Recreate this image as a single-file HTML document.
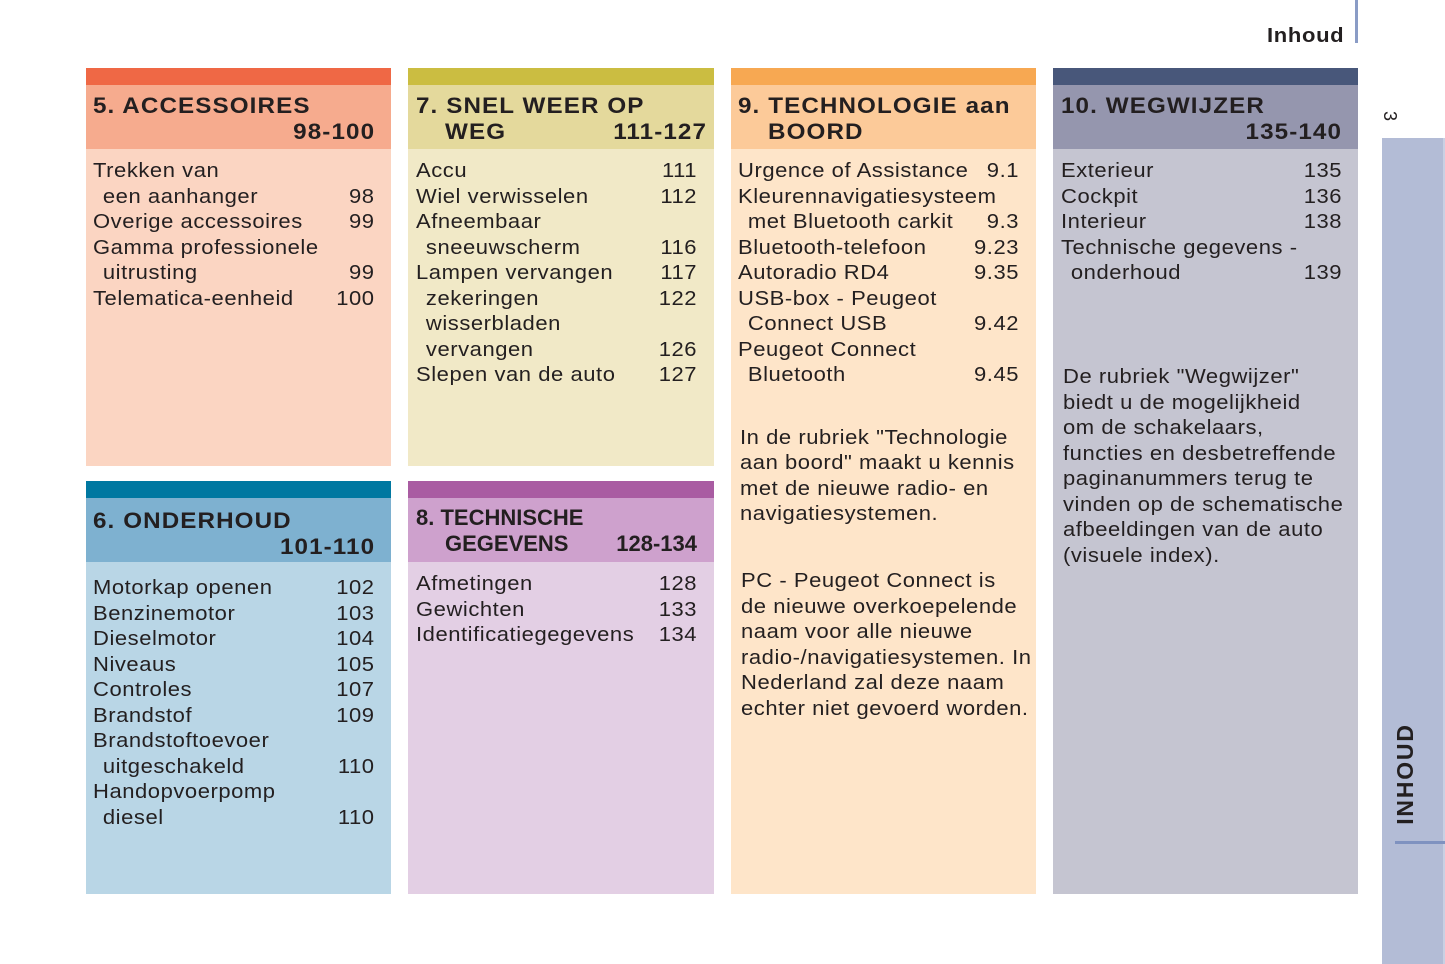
<!DOCTYPE html>
<html>
<head>
<meta charset="utf-8">
<style>
html,body{margin:0;padding:0;}
body{width:1445px;height:964px;position:relative;overflow:hidden;background:#fff;font-family:"Liberation Sans",Arial,sans-serif;color:#231f20;}
.r{position:absolute;}
.t{position:absolute;font-size:20px;line-height:25.5px;letter-spacing:0.5px;white-space:nowrap;transform:scaleX(1.1);transform-origin:0 0;}
.t div{position:relative;height:25.5px;}
.t .n{position:absolute;right:0;top:0;}
.t .i{padding-left:9px;}
.h{position:absolute;font-size:22px;font-weight:bold;line-height:26px;letter-spacing:1px;white-space:nowrap;transform:scaleX(1.1);transform-origin:0 0;}
.h div{position:relative;height:26px;}
.h .n{position:absolute;right:0;top:0;}
</style>
</head>
<body>
<!-- top right -->
<div class="r" style="left:1355px;top:0;width:3px;height:43px;background:#8a9cc6;"></div>
<div class="r" style="left:1267px;top:23px;font-size:20px;font-weight:bold;letter-spacing:0.6px;line-height:26px;transform:scaleX(1.1);transform-origin:0 0;">Inhoud</div>
<div class="r" style="left:1380px;top:104px;width:20px;height:24px;font-size:18px;line-height:24px;text-align:center;transform:rotate(90deg);">3</div>

<!-- sidebar -->
<div class="r" style="left:1382px;top:138px;width:61px;height:826px;background:#b3bcd6;"></div>
<div class="r" style="left:1443px;top:138px;width:2px;height:826px;background:#c9d0e3;"></div>
<div class="r" style="left:1352px;top:761px;width:106px;height:26px;font-size:23px;font-weight:bold;letter-spacing:1.8px;line-height:26px;text-align:center;transform:rotate(-90deg);white-space:nowrap;">INHOUD</div>
<div class="r" style="left:1395px;top:841px;width:50px;height:3px;background:#7f92c0;"></div>

<!-- Column 1 row 1 -->
<div class="r" style="left:86px;top:68px;width:305px;height:17px;background:#ef6845;"></div>
<div class="r" style="left:86px;top:85px;width:305px;height:64px;background:#f6ab8e;"></div>
<div class="r" style="left:86px;top:149px;width:305px;height:317px;background:#fbd5c2;"></div>
<div class="h" style="left:93px;top:93px;width:256.5px;">
<div>5. ACCESSOIRES</div>
<div><span class="n">98-100</span></div>
</div>
<div class="t" style="left:93px;top:159px;width:256px;">
<div>Trekken van</div>
<div class="i">een aanhanger<span class="n">98</span></div>
<div>Overige accessoires<span class="n">99</span></div>
<div>Gamma professionele</div>
<div class="i">uitrusting<span class="n">99</span></div>
<div>Telematica-eenheid<span class="n">100</span></div>
</div>

<!-- Column 2 row 1 -->
<div class="r" style="left:408px;top:68px;width:306px;height:17px;background:#cbbd41;"></div>
<div class="r" style="left:408px;top:85px;width:306px;height:64px;background:#e4d99c;"></div>
<div class="r" style="left:408px;top:149px;width:306px;height:317px;background:#f1e9c7;"></div>
<div class="h" style="left:416px;top:93px;width:264.6px;">
<div>7. SNEL WEER OP</div>
<div style="padding-left:26.4px;">WEG<span class="n">111-127</span></div>
</div>
<div class="t" style="left:416px;top:159px;width:255.5px;">
<div>Accu<span class="n">111</span></div>
<div>Wiel verwisselen<span class="n">112</span></div>
<div>Afneembaar</div>
<div class="i">sneeuwscherm<span class="n">116</span></div>
<div>Lampen vervangen<span class="n">117</span></div>
<div class="i">zekeringen<span class="n">122</span></div>
<div class="i">wisserbladen</div>
<div class="i">vervangen<span class="n">126</span></div>
<div>Slepen van de auto<span class="n">127</span></div>
</div>

<!-- Column 3 -->
<div class="r" style="left:731px;top:68px;width:305px;height:17px;background:#f7a852;"></div>
<div class="r" style="left:731px;top:85px;width:305px;height:64px;background:#fcca99;"></div>
<div class="r" style="left:731px;top:149px;width:305px;height:745px;background:#fee5c9;"></div>
<div class="h" style="left:738px;top:93px;width:264px;">
<div>9. TECHNOLOGIE aan</div>
<div style="padding-left:27.3px;">BOORD</div>
</div>
<div class="t" style="left:738px;top:159px;width:255.5px;">
<div>Urgence of Assistance<span class="n">9.1</span></div>
<div>Kleurennavigatiesysteem</div>
<div class="i">met Bluetooth carkit<span class="n">9.3</span></div>
<div>Bluetooth-telefoon<span class="n">9.23</span></div>
<div>Autoradio RD4<span class="n">9.35</span></div>
<div>USB-box - Peugeot</div>
<div class="i">Connect USB<span class="n">9.42</span></div>
<div>Peugeot Connect</div>
<div class="i">Bluetooth<span class="n">9.45</span></div>
</div>
<div class="t" style="left:740px;top:426px;line-height:25.3px;">
<div style="height:25.3px;">In de rubriek "Technologie</div>
<div style="height:25.3px;">aan boord" maakt u kennis</div>
<div style="height:25.3px;">met de nieuwe radio- en</div>
<div style="height:25.3px;">navigatiesystemen.</div>
</div>
<div class="t" style="left:741px;top:569px;">
<div>PC - Peugeot Connect is</div>
<div>de nieuwe overkoepelende</div>
<div>naam voor alle nieuwe</div>
<div>radio-/navigatiesystemen. In</div>
<div>Nederland zal deze naam</div>
<div>echter niet gevoerd worden.</div>
</div>

<!-- Column 4 -->
<div class="r" style="left:1053px;top:68px;width:305px;height:17px;background:#48577a;"></div>
<div class="r" style="left:1053px;top:85px;width:305px;height:64px;background:#9596ae;"></div>
<div class="r" style="left:1053px;top:149px;width:305px;height:745px;background:#c5c5d1;"></div>
<div class="h" style="left:1061px;top:93px;width:255.5px;">
<div>10. WEGWIJZER</div>
<div><span class="n">135-140</span></div>
</div>
<div class="t" style="left:1061px;top:159px;width:255.5px;">
<div>Exterieur<span class="n">135</span></div>
<div>Cockpit<span class="n">136</span></div>
<div>Interieur<span class="n">138</span></div>
<div>Technische gegevens -</div>
<div class="i">onderhoud<span class="n">139</span></div>
</div>
<div class="t" style="left:1063px;top:365px;">
<div>De rubriek "Wegwijzer"</div>
<div>biedt u de mogelijkheid</div>
<div>om de schakelaars,</div>
<div>functies en desbetreffende</div>
<div>paginanummers terug te</div>
<div>vinden op de schematische</div>
<div>afbeeldingen van de auto</div>
<div>(visuele index).</div>
</div>

<!-- Column 1 row 2 -->
<div class="r" style="left:86px;top:481px;width:305px;height:17px;background:#0078a1;"></div>
<div class="r" style="left:86px;top:498px;width:305px;height:64px;background:#7eb1d0;"></div>
<div class="r" style="left:86px;top:562px;width:305px;height:332px;background:#b9d6e6;"></div>
<div class="h" style="left:93px;top:508px;width:256.5px;">
<div>6. ONDERHOUD</div>
<div><span class="n">101-110</span></div>
</div>
<div class="t" style="left:93px;top:576px;width:256px;">
<div>Motorkap openen<span class="n">102</span></div>
<div>Benzinemotor<span class="n">103</span></div>
<div>Dieselmotor<span class="n">104</span></div>
<div>Niveaus<span class="n">105</span></div>
<div>Controles<span class="n">107</span></div>
<div>Brandstof<span class="n">109</span></div>
<div>Brandstoftoevoer</div>
<div class="i">uitgeschakeld<span class="n">110</span></div>
<div>Handopvoerpomp</div>
<div class="i">diesel<span class="n">110</span></div>
</div>

<!-- Column 2 row 2 -->
<div class="r" style="left:408px;top:481px;width:306px;height:17px;background:#a95ca2;"></div>
<div class="r" style="left:408px;top:498px;width:306px;height:64px;background:#cea1cd;"></div>
<div class="r" style="left:408px;top:562px;width:306px;height:332px;background:#e3cfe4;"></div>
<div class="h" style="left:416px;top:505px;width:281px;letter-spacing:0;transform:none;">
<div>8. TECHNISCHE</div>
<div style="padding-left:29px;">GEGEVENS<span class="n">128-134</span></div>
</div>
<div class="t" style="left:416px;top:572px;width:255.5px;">
<div>Afmetingen<span class="n">128</span></div>
<div>Gewichten<span class="n">133</span></div>
<div>Identificatiegegevens<span class="n">134</span></div>
</div>
</body>
</html>
